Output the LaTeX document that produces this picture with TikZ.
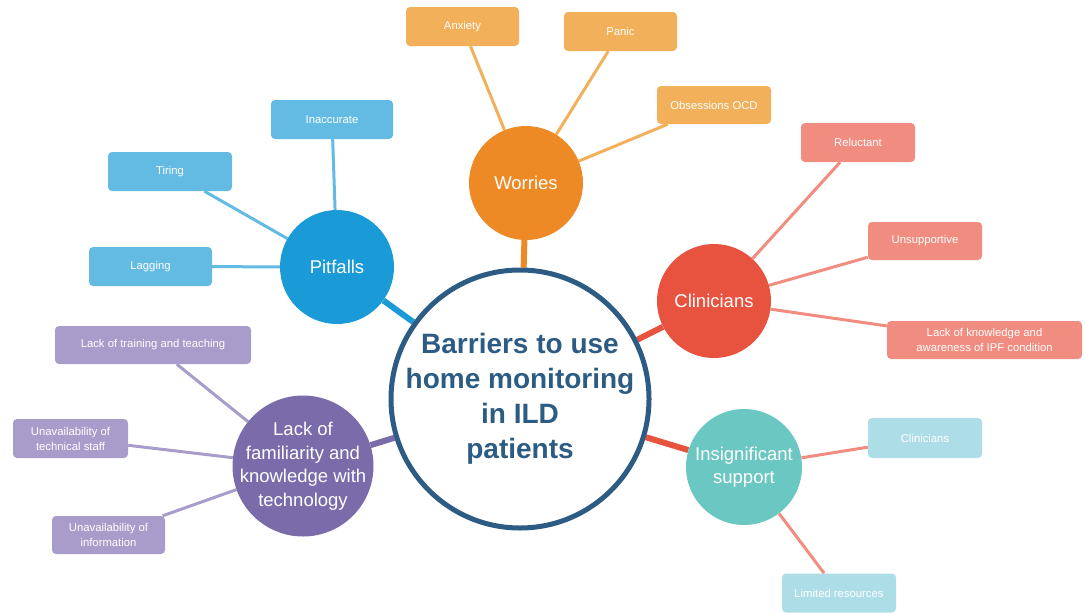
\documentclass[tikz,border=0pt]{standalone}
\usepackage{fontspec}
\setmainfont{Liberation Sans}
\usetikzlibrary{backgrounds}
\definecolor{cblue}{HTML}{1A9BD7}
\definecolor{lblue}{HTML}{63BBE3}
\definecolor{corange}{HTML}{EE8A25}
\definecolor{lorange}{HTML}{F2B05A}
\definecolor{cred}{HTML}{E8533F}
\definecolor{lred}{HTML}{F08C80}
\definecolor{cteal}{HTML}{6AC7C2}
\definecolor{lteal}{HTML}{ADDEE8}
\definecolor{cpurple}{HTML}{7A6BAA}
\definecolor{lpurple}{HTML}{A89CCB}
\definecolor{navy}{HTML}{2C5C84}
\tikzset{
  hub/.style={circle, fill=#1, text=white, inner sep=-12pt, font=\fontsize{18.5}{23.5}\selectfont, align=center},
  leaf/.style={rounded corners=4pt, fill=#1, text=white, inner sep=0pt, font=\fontsize{11.3}{15}\selectfont, align=center},
  twig/.style={line width=3pt, draw=#1},
  limb/.style={line width=6pt, draw=#1},
}
\begin{document}
\begin{tikzpicture}[x=1pt,y=-1pt]
\useasboundingbox (0,0) rectangle (1086,613);
% central
\node[circle, draw=navy, line width=5pt, inner sep=-30pt, minimum size=258pt, text=navy, align=center,
  font=\fontsize{28}{35}\selectfont\bfseries] (c) at (520,399)
  {Barriers to use\\home monitoring\\in ILD\\patients};
% hubs
\node[hub=cblue, minimum size=114pt] (pit) at (337,267) {Pitfalls};
\node[hub=corange, minimum size=114pt] (wor) at (526,183) {Worries};
\node[hub=cred, minimum size=114pt] (cli) at (714,301) {Clinicians};
\node[hub=cteal, minimum size=116pt] (ins) at (744,467) {Insignificant\\support};
\node[hub=cpurple, minimum size=141pt] (lack) at (303,466) {Lack of\\familiarity and\\knowledge with\\technology};
% leaves
\node[leaf=lblue, minimum width=122pt, minimum height=39pt] (inacc) at (332,119.5) {Inaccurate};
\node[leaf=lblue, minimum width=124pt, minimum height=39pt] (tir) at (170,171.5) {Tiring};
\node[leaf=lblue, minimum width=123pt, minimum height=39pt] (lag) at (150.5,266.5) {Lagging};
\node[leaf=lorange, minimum width=113pt, minimum height=39pt] (anx) at (462.5,26.5) {Anxiety};
\node[leaf=lorange, minimum width=113pt, minimum height=39pt] (pan) at (620.5,31.5) {Panic};
\node[leaf=lorange, minimum width=114pt, minimum height=38pt] (ocd) at (714,105) {Obsessions OCD};
\node[leaf=lred, minimum width=114pt, minimum height=39pt] (rel) at (858,142.5) {Reluctant};
\node[leaf=lred, minimum width=114pt, minimum height=38pt] (uns) at (925,241) {Unsupportive};
\node[leaf=lred, minimum width=195pt, minimum height=38pt] (lkn) at (984.5,340) {Lack of knowledge and\\awareness of IPF condition};
\node[leaf=lteal, minimum width=114pt, minimum height=40pt] (icl) at (925,438) {Clinicians};
\node[leaf=lteal, minimum width=114pt, minimum height=39pt] (lim) at (839,593) {Limited resources};
\node[leaf=lpurple, minimum width=196pt, minimum height=38pt] (trn) at (153,345) {Lack of training and teaching};
\node[leaf=lpurple, minimum width=115pt, minimum height=39pt] (tec) at (70.5,438.5) {Unavailability of\\technical staff};
\node[leaf=lpurple, minimum width=113pt, minimum height=38pt] (inf) at (108.5,535) {Unavailability of\\information};
% connectors
\begin{scope}[on background layer]
\draw[limb=cblue] (pit) -- (c);
\draw[limb=corange] (wor) -- (c);
\draw[limb=cred] (cli) -- (c);
\draw[limb=cred] (ins) -- (c);
\draw[limb=cpurple] (lack) -- (c);
\draw[twig=lblue] (pit) -- (inacc);
\draw[twig=lblue] (pit) -- (tir);
\draw[twig=lblue] (pit) -- (lag);
\draw[twig=lorange] (wor) -- (anx);
\draw[twig=lorange] (wor) -- (pan);
\draw[twig=lorange] (wor) -- (ocd);
\draw[twig=lred] (cli) -- (rel);
\draw[twig=lred] (cli) -- (uns);
\draw[twig=lred] (cli) -- (lkn);
\draw[twig=lred] (ins) -- (icl);
\draw[twig=lred] (ins) -- (lim);
\draw[twig=lpurple] (lack) -- (trn);
\draw[twig=lpurple] (lack) -- (tec);
\draw[twig=lpurple] (lack) -- (inf);
\end{scope}
\end{tikzpicture}
\end{document}
